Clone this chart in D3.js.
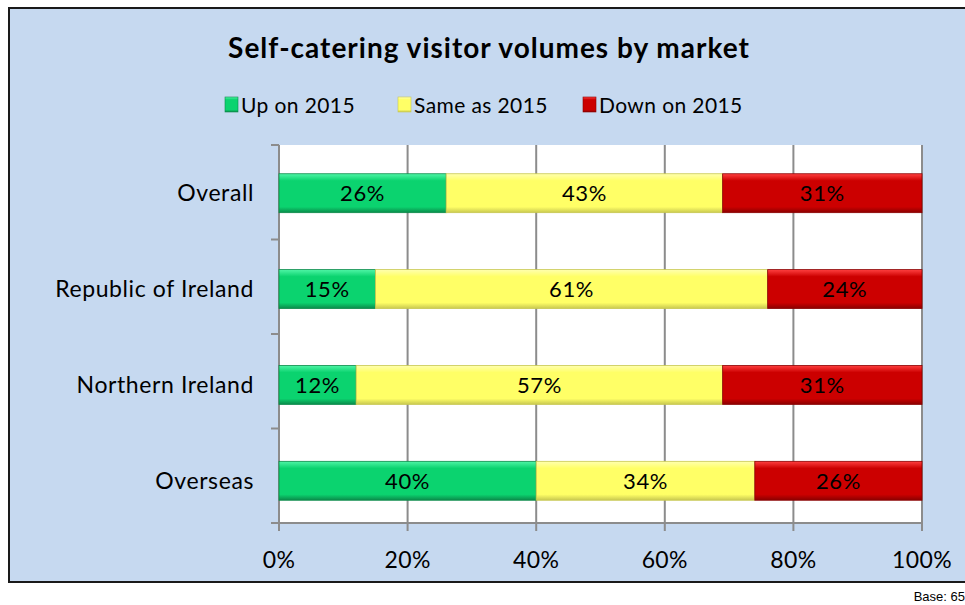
<!DOCTYPE html>
<html>
<head>
<meta charset="utf-8">
<script src="https://cdn.jsdelivr.net/npm/d3@7"></script>
<style>
  body { margin: 0; background: #fff; }
  text { font-family: Lato, "Open Sans", sans-serif; }
</style>
</head>
<body>
<svg width="965" height="605"></svg>
<script>
// data
let markets = ["Overall", "Republic of Ireland", "Northern Ireland", "Overseas"];
let seriesNames = ["Up on 2015", "Same as 2015", "Down on 2015"];
let upVals = [26, 15, 12, 40];
let sameVals = [43, 61, 57, 34];
let downVals = [31, 24, 31, 26];
let xTicks = [0, 20, 40, 60, 80, 100];

let colors = ["#0bd36f", "#ffff66", "#cc0000"];
let lights = ["#4ff5a6", "#ffffb0", "#ff4040"];
let darks = ["#0a8a4a", "#c8c850", "#8a0000"];

let svg = d3.select("svg");

// background panel
svg.append("rect").attr("x", 9).attr("y", 8).attr("width", 970).attr("height", 574)
  .attr("fill", "#c6d9f0").attr("stroke", "#1a1a1a").attr("stroke-width", 2);

let x = d3.scaleLinear().domain([0, 100]).range([279, 922]);
let y = d3.scaleBand().domain(markets).range([145, 529]).paddingInner(0.594).paddingOuter(0.3);

// gradients for the bevelled look
let defs = svg.append("defs");
colors.forEach(function (c, i) {
  let g = defs.append("linearGradient").attr("id", "g" + i)
    .attr("x1", 0).attr("y1", 0).attr("x2", 0).attr("y2", 1);
  g.append("stop").attr("offset", "0%").attr("stop-color", lights[i]);
  g.append("stop").attr("offset", "18%").attr("stop-color", c);
  g.append("stop").attr("offset", "85%").attr("stop-color", c);
  g.append("stop").attr("offset", "100%").attr("stop-color", darks[i]);
});

// plot area
svg.append("rect").attr("x", x(0)).attr("y", 145).attr("width", x(100) - x(0)).attr("height", 378)
  .attr("fill", "#fff");

// gridlines
svg.append("g").selectAll("line").data(xTicks).enter().append("line")
  .attr("x1", d => x(d)).attr("x2", d => x(d))
  .attr("y1", 145).attr("y2", 531)
  .attr("stroke", "#8c8c8c").attr("stroke-width", 2);

// left axis + ticks
svg.append("line").attr("x1", x(0)).attr("x2", x(0)).attr("y1", 145).attr("y2", 523)
  .attr("stroke", "#8c8c8c").attr("stroke-width", 2);
svg.append("g").selectAll("line").data(d3.range(5)).enter().append("line")
  .attr("x1", x(0) - 8).attr("x2", x(0))
  .attr("y1", d => 145 + d * 378 / 4).attr("y2", d => 145 + d * 378 / 4)
  .attr("stroke", "#8c8c8c").attr("stroke-width", 2);
svg.append("line").attr("x1", x(0)).attr("x2", x(100)).attr("y1", 523).attr("y2", 523)
  .attr("stroke", "#8c8c8c").attr("stroke-width", 2);

// stack
let rows = markets.map((m, i) => ({ market: m, up: upVals[i], same: sameVals[i], down: downVals[i] }));
let stack = d3.stack().keys(["up", "same", "down"])(rows);

let layers = svg.append("g").selectAll("g").data(stack).enter().append("g");
layers.selectAll("rect").data((d, i) => d.map(v => ({ v: v, i: i }))).enter().append("rect")
  .attr("x", d => x(d.v[0]))
  .attr("width", d => x(d.v[1]) - x(d.v[0]))
  .attr("y", d => y(d.v.data.market))
  .attr("height", y.bandwidth())
  .attr("fill", d => "url(#g" + d.i + ")")
  .attr("stroke", d => darks[d.i]).attr("stroke-width", 0.8);

layers.selectAll("text").data((d, i) => d.map(v => ({ v: v, i: i }))).enter().append("text")
  .attr("x", d => (x(d.v[0]) + x(d.v[1])) / 2)
  .attr("y", d => y(d.v.data.market) + y.bandwidth() / 2 + 8)
  .attr("text-anchor", "middle")
  .attr("font-size", 22).attr("letter-spacing", 0.6)
  .attr("fill", "#000")
  .text(d => (d.v[1] - d.v[0]) + "%");

// category labels
svg.append("g").selectAll("text").data(markets).enter().append("text")
  .attr("x", 254).attr("y", d => y(d) + y.bandwidth() / 2 + 8)
  .attr("text-anchor", "end").attr("font-size", 23).attr("letter-spacing", 0.6).text(d => d);

// x tick labels
svg.append("g").selectAll("text").data(xTicks).enter().append("text")
  .attr("x", d => x(d)).attr("y", 568)
  .attr("text-anchor", "middle").attr("font-size", 23).attr("letter-spacing", 0.4).text(d => d + "%");

// title
svg.append("text").attr("x", 489).attr("y", 58).attr("text-anchor", "middle")
  .attr("font-size", 28).attr("font-weight", "bold").attr("letter-spacing", 1)
  .text("Self-catering visitor volumes by market");

// legend
let legX = [225, 398, 583];
let leg = svg.append("g").selectAll("g").data(seriesNames).enter().append("g")
  .attr("transform", (d, i) => "translate(" + legX[i] + ",97)");
leg.append("rect").attr("width", 13).attr("height", 15)
  .attr("fill", (d, i) => "url(#g" + i + ")").attr("stroke", (d, i) => darks[i]).attr("stroke-width", 0.6);
leg.append("text").attr("x", 16).attr("y", 16).attr("font-size", 21).attr("letter-spacing", 0.4).text(d => d);

// base note
svg.append("text").attr("x", 965).attr("y", 601).attr("text-anchor", "end")
  .style("font-family", "Arial, 'Liberation Sans'").attr("font-size", 13).text("Base: 65");
</script>
</body>
</html>
